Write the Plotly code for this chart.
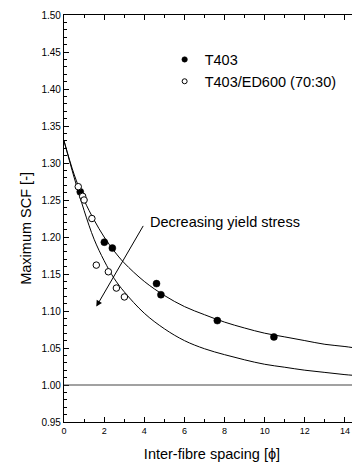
import plotly.graph_objects as go

# Measured data
t403_x = [0.81, 2.01, 2.41, 4.61, 4.83, 7.64, 10.46]
t403_y = [1.261, 1.193, 1.185, 1.137, 1.122, 1.087, 1.065]

blend_x = [0.71, 0.93, 1.0, 1.39, 1.61, 2.21, 2.61, 3.01]
blend_y = [1.268, 1.255, 1.250, 1.225, 1.162, 1.153, 1.131, 1.119]

# Fitted curves
curve_x = [0, 0.5, 1, 1.5, 2, 2.5, 3, 4, 5, 6, 7, 8, 9, 10, 11, 12, 13, 14, 15]
upper_y = [1.330, 1.285, 1.250, 1.223, 1.200, 1.181, 1.165, 1.140, 1.121, 1.106,
           1.095, 1.085, 1.077, 1.070, 1.065, 1.060, 1.055, 1.052, 1.048]
lower_y = [1.330, 1.281, 1.236, 1.197, 1.168, 1.144, 1.126, 1.097, 1.076, 1.060,
           1.049, 1.041, 1.034, 1.028, 1.024, 1.020, 1.017, 1.014, 1.012]

x_tickvals = [0, 2, 4, 6, 8, 10, 12, 14]
y_tickvals = [0.95, 1.00, 1.05, 1.10, 1.15, 1.20, 1.25, 1.30, 1.35, 1.40, 1.45, 1.50]

FONT = "Liberation Sans, Arial, sans-serif"

fig = go.Figure()

fig.add_trace(go.Scatter(x=curve_x, y=upper_y, mode="lines", line=dict(color="black", width=1, shape="spline"),
                         showlegend=False, hoverinfo="skip"))
fig.add_trace(go.Scatter(x=curve_x, y=lower_y, mode="lines", line=dict(color="black", width=1, shape="spline"),
                         showlegend=False, hoverinfo="skip"))

fig.add_trace(go.Scatter(x=t403_x, y=t403_y, mode="markers", showlegend=False,
                         marker=dict(symbol="circle", size=7, color="black", line=dict(color="black", width=0.5))))
fig.add_trace(go.Scatter(x=blend_x, y=blend_y, mode="markers", showlegend=False,
                         marker=dict(symbol="circle", size=6.5, color="white", line=dict(color="black", width=1))))

# Legend entries
fig.add_trace(go.Scatter(x=[None], y=[None], mode="markers", name="T403",
                         marker=dict(symbol="circle", size=5.5, color="black", line=dict(color="black", width=0.5))))
fig.add_trace(go.Scatter(x=[None], y=[None], mode="markers", name="T403/ED600 (70:30)",
                         marker=dict(symbol="circle", size=5, color="white", line=dict(color="black", width=1))))

fig.add_shape(type="line", xref="paper", x0=0, x1=1, yref="y", y0=1.0, y1=1.0,
              line=dict(color="#444444", width=1.2))

fig.add_annotation(x=1.61, y=1.106, ax=3.99, ay=1.217, axref="x", ayref="y", xref="x", yref="y",
                   text="", showarrow=True, arrowhead=2, arrowsize=1.2, arrowwidth=1, arrowcolor="black")
fig.add_annotation(x=4.21, y=1.2197, xref="x", yref="y", text="Decreasing yield stress", showarrow=False,
                   xanchor="left", yanchor="middle", font=dict(family=FONT, size=14.5, color="black"))

# Y axis title placed as in the reference
fig.add_annotation(x=-0.128, y=0.475, xref="paper", yref="paper", text="Maximum SCF [-]", showarrow=False,
                   textangle=-90, xanchor="center", yanchor="middle",
                   font=dict(family=FONT, size=14.5, color="black"))

fig.update_layout(
    width=352, height=454,
    margin=dict(l=56, r=0, t=7, b=40),
    paper_bgcolor="white", plot_bgcolor="white",
    font=dict(family=FONT, color="black"),
    legend=dict(x=0.34, y=0.93, xanchor="left", yanchor="top", bgcolor="rgba(0,0,0,0)",
                font=dict(family=FONT, size=14.5, color="black"), tracegroupgap=0),
)

fig.update_xaxes(
    range=[0, 14.75], tickvals=x_tickvals, ticktext=[str(v) for v in x_tickvals],
    ticks="inside", ticklen=5, tickwidth=1, tickcolor="black",
    minor=dict(dtick=1, ticks="inside", ticklen=3, tickcolor="black"),
    showline=True, linecolor="black", linewidth=1.2, mirror="ticks",
    showgrid=False, zeroline=False, automargin=False,
    tickfont=dict(family=FONT, size=9, color="black"),
    title=dict(text="Inter-fibre spacing [\u03d5]", font=dict(family=FONT, size=14.5, color="black"), standoff=13),
)
fig.update_yaxes(
    range=[0.95, 1.50], tickvals=y_tickvals, ticktext=["%.2f" % v for v in y_tickvals],
    ticks="inside", ticklen=5, tickwidth=1, tickcolor="black",
    minor=dict(dtick=0.01, tick0=0.95, ticks="inside", ticklen=3, tickcolor="black"),
    showline=True, linecolor="black", linewidth=1.2, mirror=False,
    showgrid=False, zeroline=False, automargin=False,
    tickfont=dict(family=FONT, size=10, color="black"),
)

fig.write_html("out.html")
